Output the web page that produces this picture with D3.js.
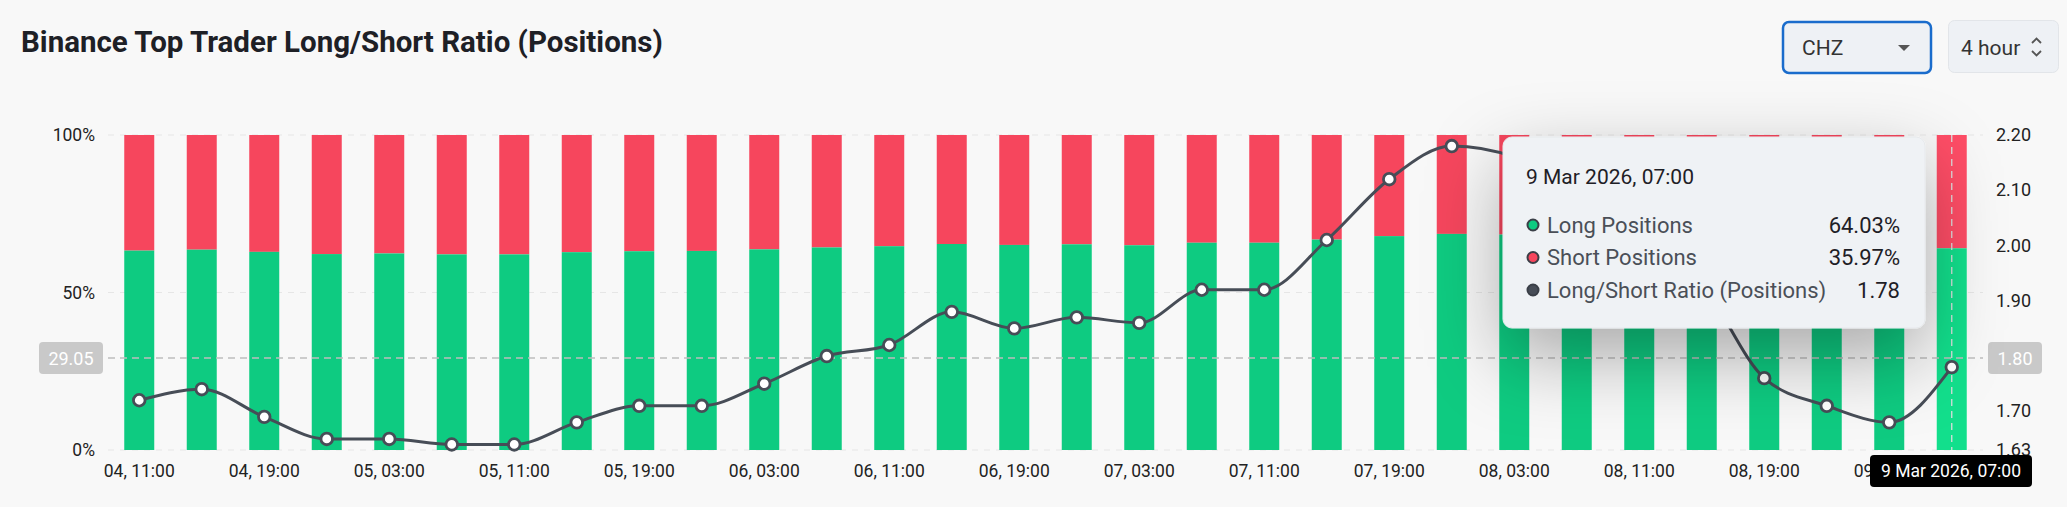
<!DOCTYPE html>
<html><head><meta charset="utf-8">
<script src="https://cdn.jsdelivr.net/npm/d3@7"></script>
<style>
html,body{margin:0;padding:0;background:#f8f8f8;}
svg{display:block;font-family:Roboto,"Noto Sans",sans-serif;}
</style></head>
<body><svg id="c" width="2067" height="507"></svg>
<script>
const times = ["04, 11:00","04, 15:00","04, 19:00","04, 23:00","05, 03:00","05, 07:00","05, 11:00","05, 15:00","05, 19:00","05, 23:00",
"06, 03:00","06, 07:00","06, 11:00","06, 15:00","06, 19:00","06, 23:00","07, 03:00","07, 07:00","07, 11:00","07, 15:00",
"07, 19:00","07, 23:00","08, 03:00","08, 07:00","08, 11:00","08, 15:00","08, 19:00","08, 23:00","09, 03:00","09, 07:00"];
const longPct = [63.3,63.6,62.9,62.2,62.4,62.1,62.1,62.8,63.1,63.2,63.7,64.3,64.7,65.4,65.1,65.3,65.0,65.8,65.8,66.8,67.9,68.6,68.4,67.7,66.9,65.9,63.8,63.1,62.7,64.03];
const ratio = [1.72,1.74,1.69,1.65,1.65,1.64,1.64,1.68,1.71,1.71,1.75,1.80,1.82,1.88,1.85,1.87,1.86,1.92,1.92,2.01,2.12,2.18,2.16,2.10,2.02,1.93,1.76,1.71,1.68,1.78];
const pctTicks = [0,50,100];
const ratioTicks = [1.63,1.70,1.80,1.90,2.00,2.10,2.20];
const hoverIndex = 29;
const tooltipTitle = "9 Mar 2026, 07:00";
const tooltipRows = [["Long Positions","64.03%","#0ecb81"],["Short Positions","35.97%","#f6465d"],["Long/Short Ratio (Positions)","1.78","#474d57"]];
const crossPct = "29.05", crossRatio = "1.80";

const svg = d3.select("#c");
const GREEN="#0ecb81", RED="#f6465d", LINE="#474d57";
const x = d3.scaleBand().domain(times).range([108,1983]).paddingInner(0.52).paddingOuter(0.26);
const yP = d3.scaleLinear().domain([0,100]).range([450,135]);
const yR = d3.scaleLinear().domain([1.63,2.20]).range([450,135]);

const defs = svg.append("defs");
const f = defs.append("filter").attr("id","sh").attr("x","-50%").attr("y","-50%").attr("width","200%").attr("height","220%");
f.append("feDropShadow").attr("dx",0).attr("dy",28).attr("stdDeviation",38).attr("flood-color","#000").attr("flood-opacity",0.32);

// title
svg.append("text").attr("x",21).attr("y",52).attr("font-size",29.5).attr("font-weight",700).attr("fill","#1e2026").text("Binance Top Trader Long/Short Ratio (Positions)");

// controls
svg.append("rect").attr("x",1783).attr("y",22).attr("width",148).attr("height",51).attr("rx",6).attr("fill","#eef1f5").attr("stroke","#1a6ccc").attr("stroke-width",2.5);
svg.append("text").attr("x",1802).attr("y",55).attr("font-size",21).attr("fill","#333").text("CHZ");
svg.append("path").attr("d","M1898,45 L1910,45 L1904,51 Z").attr("fill","#555");
svg.append("rect").attr("x",1948.5).attr("y",20.5).attr("width",110).attr("height",52).attr("rx",6).attr("fill","#eef1f5").attr("stroke","#e2e5e9");
svg.append("text").attr("x",1961).attr("y",55).attr("font-size",21).attr("fill","#333").text("4 hour");
svg.append("path").attr("d","M2032,43 L2036.5,38.5 L2041,43 M2032,51 L2036.5,55.5 L2041,51").attr("fill","none").attr("stroke","#555").attr("stroke-width",1.8);

// grid
svg.append("g").selectAll("line").data(pctTicks).join("line")
  .attr("x1",108).attr("x2",1983).attr("y1",d=>yP(d)).attr("y2",d=>yP(d))
  .attr("stroke","#e6e6e6").attr("stroke-dasharray","6,6");

// left axis
svg.append("g").selectAll("text").data(pctTicks).join("text")
  .attr("x",95).attr("y",d=>yP(d)+6).attr("text-anchor","end").attr("font-size",17.5).attr("fill","#222").text(d=>d+"%");
// right axis
svg.append("g").selectAll("text").data(ratioTicks).join("text")
  .attr("x",1996).attr("y",d=>yR(d)+6).attr("font-size",18).attr("fill","#222").text(d=>d.toFixed(2));

// bars
const bars = svg.append("g");
longPct.forEach((v,i)=>{
  const hi = i===hoverIndex;
  bars.append("rect").attr("x",x(times[i])).attr("width",x.bandwidth()).attr("y",yP(100)).attr("height",yP(v)-yP(100)).attr("fill",hi?"#ff4d66":RED);
  bars.append("rect").attr("x",x(times[i])).attr("width",x.bandwidth()).attr("y",yP(v)).attr("height",yP(0)-yP(v)).attr("fill",hi?"#12df8c":GREEN);
});

// x labels
svg.append("g").selectAll("text").data(times.filter((d,i)=>i%2===0)).join("text")
  .attr("x",d=>x(d)+x.bandwidth()/2).attr("y",477).attr("text-anchor","middle").attr("font-size",17.5).attr("fill","#222").text(d=>d);

// crosshair
const cx = x(times[hoverIndex])+x.bandwidth()/2;
svg.append("line").attr("x1",108).attr("x2",1983).attr("y1",358).attr("y2",358).attr("stroke","#bdbdbd").attr("stroke-width",1.3).attr("stroke-dasharray","7,5");
svg.append("line").attr("x1",cx).attr("x2",cx).attr("y1",135).attr("y2",450).attr("stroke","#dcdcdc").attr("stroke-width",1.3).attr("stroke-dasharray","7,5");

// ratio line
const lineGen = d3.line().x((d,i)=>x(times[i])+x.bandwidth()/2).y(d=>yR(d)).curve(d3.curveMonotoneX);
svg.append("path").datum(ratio).attr("d",lineGen).attr("fill","none").attr("stroke",LINE).attr("stroke-width",3);
svg.append("g").selectAll("circle").data(ratio).join("circle")
  .attr("cx",(d,i)=>x(times[i])+x.bandwidth()/2).attr("cy",d=>yR(d)).attr("r",5.8)
  .attr("fill","#fff").attr("stroke",LINE).attr("stroke-width",2.8);

// axis pointer labels
svg.append("rect").attr("x",39).attr("y",342).attr("width",64).attr("height",32).attr("rx",4).attr("fill","#c9c9c9");
svg.append("text").attr("x",71).attr("y",364.5).attr("text-anchor","middle").attr("font-size",18).attr("fill","#fff").text(crossPct);
svg.append("rect").attr("x",1988).attr("y",342).attr("width",54).attr("height",32).attr("rx",4).attr("fill","#c9c9c9");
svg.append("text").attr("x",2015).attr("y",364.5).attr("text-anchor","middle").attr("font-size",18).attr("fill","#fff").text(crossRatio);
svg.append("rect").attr("x",1870).attr("y",455).attr("width",162).attr("height",32).attr("rx",4).attr("fill","#000");
svg.append("text").attr("x",1951).attr("y",477).attr("text-anchor","middle").attr("font-size",17.5).attr("fill","#fff").text(tooltipTitle);

// tooltip
const tt = svg.append("g");
tt.append("rect").attr("x",1503).attr("y",137).attr("width",422).attr("height",191).attr("rx",9)
  .attr("fill","#eff2f5").attr("stroke","#e6e9ec").attr("filter","url(#sh)");
tt.append("text").attr("x",1526).attr("y",184).attr("font-size",21).attr("fill","#1e2026").text(tooltipTitle);
tooltipRows.forEach((r,i)=>{
  const y = 225 + i*32.5;
  tt.append("circle").attr("cx",1533).attr("cy",y).attr("r",5.5).attr("fill",r[2]).attr("stroke","#3a3f47").attr("stroke-width",2);
  tt.append("text").attr("x",1547).attr("y",y+7.5).attr("font-size",22).attr("fill","#4a4f57").text(r[0]);
  tt.append("text").attr("x",1900).attr("y",y+7.5).attr("text-anchor","end").attr("font-size",22).attr("fill","#1e2026").text(r[1]);
});
</script></body></html>
